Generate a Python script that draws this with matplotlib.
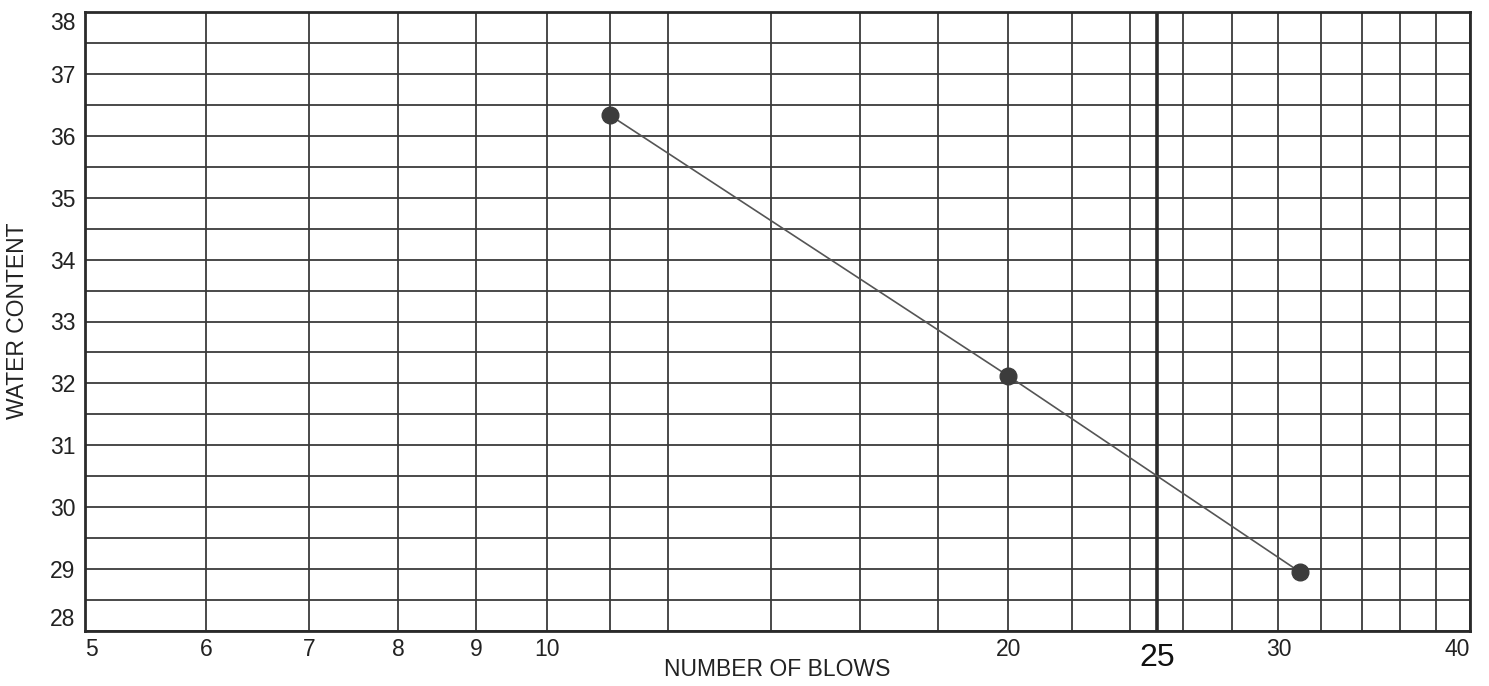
import matplotlib
matplotlib.use("Agg")
import matplotlib.pyplot as plt
from matplotlib.ticker import FixedLocator, FixedFormatter, NullFormatter
from matplotlib.transforms import ScaledTranslation

plt.rcParams['font.family'] = ['Liberation Sans', 'DejaVu Sans']

# Liquid limit test results
blows = [11, 20, 31]
water_content = [36.33, 32.12, 28.95]

# Axis ticks and grid
x_labeled = [5, 6, 7, 8, 9, 10, 20, 25, 30, 40]
x_labels = ['5', '6', '7', '8', '9', '10', '20', '25', '30', '40']
x_minor = [11, 12, 14, 16, 18, 22, 24, 26, 28, 32, 34, 36, 38]
y_major = [28, 29, 30, 31, 32, 33, 34, 35, 36, 37, 38]
y_minor = [28.5, 29.5, 30.5, 31.5, 32.5, 33.5, 34.5, 35.5, 36.5, 37.5]

grid_color = '#3a3a3a'
text_color = '#222222'

W, H = 1489, 686
fig = plt.figure(figsize=(W / 100, H / 100), dpi=100)
ax = fig.add_axes([85 / W, 1 - 631 / H, (1470 - 85) / W, (631 - 12) / H])

ax.set_xscale('log')
ax.set_xlim(5, 40)
ax.set_ylim(28, 38)

ax.xaxis.set_major_locator(FixedLocator(x_labeled))
ax.xaxis.set_major_formatter(FixedFormatter(x_labels))
ax.xaxis.set_minor_locator(FixedLocator(x_minor))
ax.xaxis.set_minor_formatter(NullFormatter())
ax.yaxis.set_major_locator(FixedLocator(y_major))
ax.yaxis.set_minor_locator(FixedLocator(y_minor))

ax.tick_params(which='both', length=0)
ax.tick_params(axis='x', which='major', labelsize=16.5, pad=5, colors=text_color)
ax.tick_params(axis='y', which='major', labelsize=16.5, pad=7, colors=text_color)

ax.grid(True, which='both', color=grid_color, linewidth=1.3)
ax.axvline(25, color='#2a2a2a', linewidth=2.6, zorder=1.5)
ax.set_axisbelow(True)

for s in ax.spines.values():
    s.set_linewidth(2.0)
    s.set_color('#2a2a2a')

ax.plot(blows, water_content, color='#555555', linewidth=1.2, zorder=3)
ax.plot(blows, water_content, linestyle='none', marker='o', markersize=12,
        color='#3c3c3c', zorder=4)

fig.text(777 / W, 1 - 669 / H, 'NUMBER OF BLOWS', fontsize=16.5, color=text_color,
         ha='center', va='center')
fig.text(18 / W, 1 - 321 / H, 'WATER CONTENT', fontsize=16.5, color=text_color,
         ha='center', va='center', rotation=90)

fig.canvas.draw()
for lbl in ax.get_xticklabels():
    t = lbl.get_text()
    if t == '5':
        lbl.set_horizontalalignment('left')
    elif t == '40':
        lbl.set_horizontalalignment('right')
    elif t == '25':
        lbl.set_fontsize(23)
        lbl.set_color('#111111')
        lbl.set_transform(lbl.get_transform() +
                          ScaledTranslation(0, -4 / 72, fig.dpi_scale_trans))
for lbl in ax.get_yticklabels():
    t = lbl.get_text()
    if t == '28':
        lbl.set_verticalalignment('bottom')
    elif t == '38':
        lbl.set_verticalalignment('top')

fig.savefig('out.png', dpi=100, facecolor='white')
